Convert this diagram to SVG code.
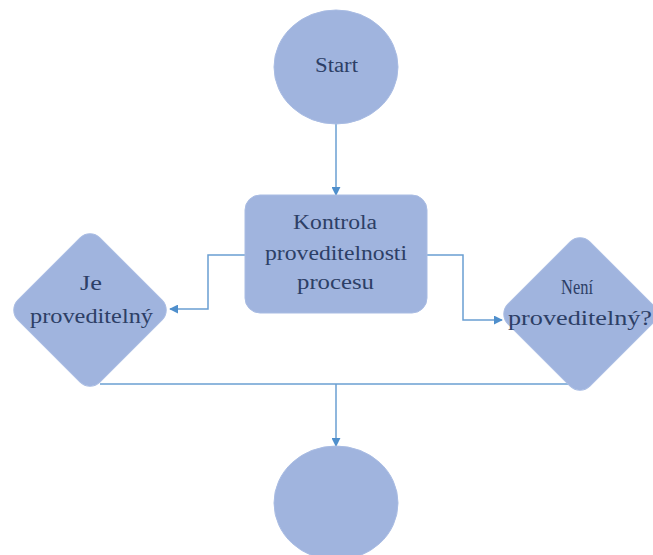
<svg xmlns="http://www.w3.org/2000/svg" width="653" height="555" viewBox="0 0 653 555">
<style>
.shape{fill:#a0b4de;stroke:#a9bce3;stroke-width:1}
.lbl{font-family:"Liberation Serif","DejaVu Serif","Times New Roman",serif;font-size:20px;fill:#2d3f66;text-anchor:middle}
.conn{fill:none;stroke:#6a9fd2;stroke-width:1.5}
</style>
<defs>
<marker id="arr" viewBox="0 0 10 10" refX="9" refY="5" markerWidth="9" markerHeight="9" markerUnits="userSpaceOnUse" orient="auto">
<path d="M0,0 L10,5 L0,10 Z" fill="#4f8fcc"/>
</marker>
</defs>
<rect width="653" height="555" fill="#ffffff"/>
<g id="connectors">
<line class="conn" x1="336" y1="124" x2="336" y2="195" marker-end="url(#arr)"/>
<polyline class="conn" points="245,255 208,255 208,309 170,309" marker-end="url(#arr)"/>
<polyline class="conn" points="427,255 463,255 463,320 502,320" marker-end="url(#arr)"/>
<line class="conn" x1="100" y1="384" x2="576" y2="384"/>
<line class="conn" x1="336" y1="384" x2="336" y2="446" marker-end="url(#arr)"/>
</g>
<g id="start">
<ellipse class="shape" cx="336" cy="67" rx="62" ry="57"/>
<text class="lbl" x="336.5" y="72" textLength="43" lengthAdjust="spacingAndGlyphs">Start</text>
</g>
<g id="kontrola">
<rect class="shape" x="245" y="195" width="182" height="118" rx="15"/>
<text class="lbl" x="335" y="229" textLength="84" lengthAdjust="spacingAndGlyphs">Kontrola</text>
<text class="lbl" x="336" y="260" textLength="142" lengthAdjust="spacingAndGlyphs">proveditelnosti</text>
<text class="lbl" x="335.5" y="289" textLength="77" lengthAdjust="spacingAndGlyphs">procesu</text>
</g>
<g id="je">
<rect class="shape" x="-58" y="-58" width="116" height="116" rx="14" transform="translate(90,310) rotate(45)"/>
<text class="lbl" x="91" y="290" textLength="22" lengthAdjust="spacingAndGlyphs">Je</text>
<text class="lbl" x="91.5" y="323" textLength="123" lengthAdjust="spacingAndGlyphs">proveditelný</text>
</g>
<g id="neni">
<rect class="shape" x="-58" y="-58" width="116" height="116" rx="14" transform="translate(580,314) rotate(45)"/>
<text class="lbl" x="577" y="294" textLength="32" lengthAdjust="spacingAndGlyphs">Není</text>
<text class="lbl" x="580" y="325" textLength="144" lengthAdjust="spacingAndGlyphs">proveditelný?</text>
</g>
<g id="end">
<ellipse class="shape" cx="336" cy="503" rx="62" ry="57"/>
</g>
</svg>
